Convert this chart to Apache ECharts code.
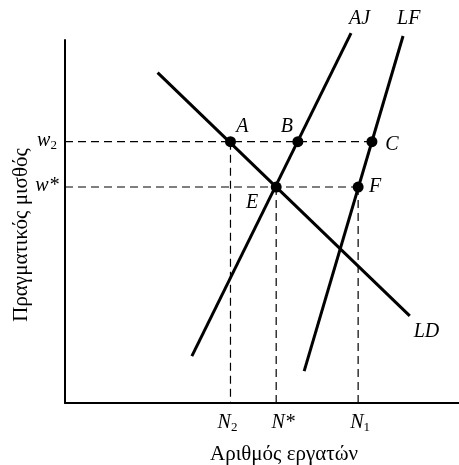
<!DOCTYPE html>
<html>
<head>
<meta charset="utf-8">
<script src="https://cdn.jsdelivr.net/npm/echarts@6/dist/echarts.min.js"></script>
<style>html,body{margin:0;padding:0;background:#fff}#c{width:459px;height:465px}</style>
</head>
<body>
<div id="c"></div>
<script>
// Data (in abstract units: employment 0-100, real wage 0-100)
const wageTicks = [72, 59.5];
const wageTickLabels = ['{i|w}{s|2}', '{i|w*}'];
const employmentTicks = [42, 53.6, 74.4];
const employmentTickLabels = ['{i|N}{s|2}', '{i|N*}', '{i|N}{s|1}'];
const curveLD = [[23.5, 91], [87.5, 24]];
const curveAJ = [[32.2, 12.9], [72.6, 101.9]];
const curveLF = [[60.7, 8.8], [85.8, 101.1]];
const pointNames = ['A', 'B', 'C', 'E', 'F'];
const pointX = [42, 59.1, 77.9, 53.6, 74.4];
const pointY = [72, 72, 72, 59.5, 59.5];

const serif = 'Liberation Serif';
const rich = {
  i: {fontFamily: serif, fontStyle: 'italic', fontSize: 20, color: '#000', lineHeight: 22},
  s: {fontFamily: serif, fontSize: 13, color: '#000', lineHeight: 22, padding: [10, 0, 0, 0]}
};

const labelOffsets = {A: [12, -15], B: [-11, -15], C: [20, 3], E: [-24, 16], F: [17, 0]};

const dashStyle = {color: '#000', width: 1.2, type: [8, 5]};
function seg(data, style) {
  return {type: 'line', data: data, symbol: 'none', clip: false, silent: true,
          lineStyle: style, z: 2};
}

const series = [];
// Horizontal dashed guides
series.push(seg([[0, pointY[0]], [pointX[2], pointY[2]]], dashStyle));
series.push(seg([[0, pointY[3]], [pointX[4], pointY[4]]], dashStyle));
// Vertical dashed guides
series.push(seg([[employmentTicks[0], pointY[0]], [employmentTicks[0], 0]], dashStyle));
series.push(seg([[employmentTicks[1], pointY[3]], [employmentTicks[1], 0]], dashStyle));
series.push(seg([[employmentTicks[2], pointY[4]], [employmentTicks[2], 0]], dashStyle));

const solid = {color: '#000', width: 3};
function curve(data, name, offset) {
  const s = seg(data, solid);
  s.z = 3;
  s.endLabel = {show: true, color: '#000', formatter: '{i|' + name + '}', rich: rich, offset: offset};
  return s;
}
series.push(curve(curveLD, 'LD', [-4, 16]));
series.push(curve(curveAJ, 'AJ', [-10, -14]));
series.push(curve(curveLF, 'LF', [-14, -17]));

// Points
series.push({
  type: 'scatter', symbol: 'circle', symbolSize: 11, z: 5, clip: false,
  itemStyle: {color: '#000', opacity: 1},
  data: pointNames.map((n, k) => ({
    value: [pointX[k], pointY[k]],
    label: {show: true, color: '#000', formatter: '{i|' + n + '}', rich: rich, offset: labelOffsets[n], position: 'inside'}
  }))
});

// Axis tick labels
series.push({
  type: 'scatter', symbolSize: 0, clip: false, silent: true,
  itemStyle: {color: '#000', opacity: 1},
  data: wageTicks.map((v, k) => ({
    value: [0, v],
    label: {show: true, color: '#000', formatter: wageTickLabels[k], rich: rich, position: 'inside', offset: [-18, -1]}
  }))
});
const nOff = [[-3, 20], [7, 20], [2, 20]];
series.push({
  type: 'scatter', symbolSize: 0, clip: false, silent: true,
  itemStyle: {color: '#000', opacity: 1},
  data: employmentTicks.map((v, k) => ({
    value: [v, 0],
    label: {show: true, color: '#000', formatter: employmentTickLabels[k], rich: rich, position: 'inside', offset: nOff[k]}
  }))
});

const chart = echarts.init(document.getElementById('c'), null, {renderer: 'canvas'});
chart.setOption({
  animation: false,
  backgroundColor: '#fff',
  grid: {left: 65, right: 0, top: 40, bottom: 62, outerBoundsMode: 'none', containLabel: false},
  xAxis: {
    type: 'value', min: 0, max: 100,
    name: 'Αριθμός εργατών', nameLocation: 'middle', nameGap: 41,
    nameTextStyle: {fontFamily: serif, fontSize: 21, color: '#000', padding: [0, 0, 0, 44]},
    axisLine: {show: true, lineStyle: {color: '#000', width: 2}},
    axisTick: {show: false}, axisLabel: {show: false}, splitLine: {show: false}
  },
  yAxis: {
    type: 'value', min: 0, max: 100,
    axisLine: {show: true, lineStyle: {color: '#000', width: 2}},
    axisTick: {show: false}, axisLabel: {show: false}, splitLine: {show: false}
  },
  graphic: [{
    type: 'text', x: 21, y: 235, rotation: Math.PI / 2,
    style: {text: 'Πραγματικός μισθός', fontFamily: serif, fontSize: 21, fill: '#000',
            align: 'center', verticalAlign: 'middle'}
  }],
  series: series
});
</script>
</body>
</html>
